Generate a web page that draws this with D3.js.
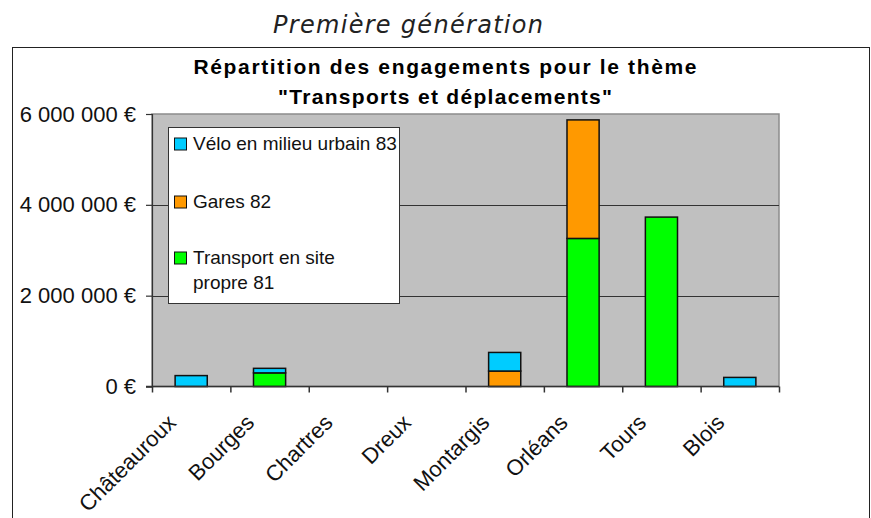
<!DOCTYPE html>
<html>
<head>
<meta charset="utf-8">
<script src="https://cdn.jsdelivr.net/npm/d3@7"></script>
<style>
  body { margin: 0; background: #fff; }
  text { font-family: "Liberation Sans", Arial, sans-serif; }
</style>
</head>
<body>
<div id="chart"></div>
<script>
// data
const categories = ["Châteauroux", "Bourges", "Chartres", "Dreux", "Montargis", "Orléans", "Tours", "Blois"];
const transport81 = [0, 300000, 0, 0, 0, 3260000, 3730000, 0];
const gares82 = [0, 0, 0, 0, 340000, 2610000, 0, 0];
const velo83 = [240000, 100000, 0, 0, 410000, 0, 0, 200000];
const seriesKeys = ["transport", "gares", "velo"];
const seriesColors = ["#00ff00", "#ff9900", "#00ccff"];
const legendLabels = [["Vélo en milieu urbain 83"], ["Gares 82"], ["Transport en site", "propre 81"]];
const legendColors = ["#00ccff", "#ff9900", "#00ff00"];
const yTicks = [0, 2000000, 4000000, 6000000];
const pageTitle = "Première génération";
const chartTitle = ["Répartition des engagements pour le thème", "\"Transports et déplacements\""];

const width = 871, height = 518;
const plot = {left: 152, right: 779, top: 114, bottom: 386.5};

const svg = d3.select("#chart").append("svg")
    .attr("width", width)
    .attr("height", height);

// page heading
svg.append("text")
    .attr("x", 408)
    .attr("y", 33)
    .attr("text-anchor", "middle")
    .style("font-family", "'DejaVu Sans', Verdana, sans-serif")
    .style("font-style", "italic")
    .style("font-size", "24px")
    .attr("fill", "#222")
    .attr("textLength", 270)
    .attr("lengthAdjust", "spacing")
    .text(pageTitle);

// chart frame
svg.append("rect")
    .attr("x", 12.5)
    .attr("y", 47.5)
    .attr("width", 857)
    .attr("height", 500)
    .attr("fill", "none")
    .attr("stroke", "#222");

// chart title
svg.append("g")
  .selectAll("text")
  .data(chartTitle)
  .join("text")
    .attr("x", 445)
    .attr("y", (d, i) => 74 + i * 30)
    .attr("text-anchor", "middle")
    .style("font-size", "21px")
    .style("font-weight", "bold")
    .attr("textLength", (d, i) => i === 0 ? 503 : 334)
    .attr("lengthAdjust", "spacing")
    .text(d => d);

const table = categories.map((c, i) => ({
  cat: c, transport: transport81[i], gares: gares82[i], velo: velo83[i]
}));

const x = d3.scaleBand()
    .domain(categories)
    .range([plot.left, plot.right])
    .paddingInner(0.59)
    .paddingOuter(0.295);

const xEdges = d3.scaleLinear()
    .domain([0, categories.length])
    .range([plot.left, plot.right]);

const y = d3.scaleLinear()
    .domain([0, 6000000])
    .range([plot.bottom, plot.top]);

// plot area
svg.append("rect")
    .attr("x", plot.left)
    .attr("y", plot.top)
    .attr("width", plot.right - plot.left)
    .attr("height", plot.bottom - plot.top)
    .attr("fill", "#c0c0c0")
    .attr("stroke", "#8c8c8c")
    .attr("stroke-width", 1.5);

// gridlines
svg.append("g")
  .selectAll("line")
  .data(yTicks.filter(v => v > 0 && v < 6000000))
  .join("line")
    .attr("x1", plot.left)
    .attr("x2", plot.right)
    .attr("y1", d => Math.round(y(d)) + 0.5)
    .attr("y2", d => Math.round(y(d)) + 0.5)
    .attr("stroke", "#333")
    .attr("stroke-width", 1.2);

// stacked bars
const stacked = d3.stack().keys(seriesKeys)(table);
svg.append("g")
  .selectAll("g")
  .data(stacked)
  .join("g")
    .attr("fill", (d, i) => seriesColors[i])
  .selectAll("rect")
  .data(d => d.filter(s => s[1] - s[0] > 0))
  .join("rect")
    .attr("x", d => x(d.data.cat))
    .attr("y", d => y(d[1]))
    .attr("width", x.bandwidth())
    .attr("height", d => y(d[0]) - y(d[1]))
    .attr("stroke", "#111")
    .attr("stroke-width", 1.5);

const fmt = v => d3.format(",")(v).replace(/,/g, " ") + " €";

// y axis
svg.append("g")
    .attr("transform", `translate(${plot.left},0)`)
    .call(d3.axisLeft(y).tickValues(yTicks).tickSize(6).tickPadding(10).tickFormat(fmt))
    .call(g => g.selectAll("line, path").attr("stroke", "#333").attr("stroke-width", 1.2))
    .call(g => g.selectAll("text")
        .attr("fill", "#111")
        .style("font-family", "'Liberation Sans', Arial, sans-serif")
        .style("font-size", "22px"));

// x axis (ticks between categories)
svg.append("g")
    .attr("transform", `translate(0,${plot.bottom})`)
    .call(d3.axisBottom(xEdges).tickValues(d3.range(categories.length + 1)).tickSize(6).tickFormat(""))
    .call(g => g.select(".domain").attr("d", `M${plot.left - 6},0H${plot.right}`))
    .call(g => g.selectAll("line, path").attr("stroke", "#333").attr("stroke-width", 1.5));

// rotated category labels
svg.append("g")
  .selectAll("text")
  .data(categories)
  .join("text")
    .attr("transform", d => `translate(${x(d) + x.bandwidth() / 2 - 14},424) rotate(-45)`)
    .attr("text-anchor", "end")
    .style("font-size", "22px")
    .attr("fill", "#111")
    .text(d => d);

// legend
const legend = svg.append("g");
legend.append("rect")
    .attr("x", 168.5)
    .attr("y", 127.5)
    .attr("width", 231)
    .attr("height", 176)
    .attr("fill", "#fff")
    .attr("stroke", "#333");

const entryY = [144, 202, 258];
const items = legend.selectAll("g.item")
  .data(legendLabels)
  .join("g")
    .attr("class", "item");

items.append("rect")
    .attr("x", 174.5)
    .attr("y", (d, i) => entryY[i] - 6)
    .attr("width", 12)
    .attr("height", 12)
    .attr("fill", (d, i) => legendColors[i])
    .attr("stroke", "#111");

items.selectAll("text")
  .data((d, i) => d.map((t, j) => ({t, i, j})))
  .join("text")
    .attr("x", 193)
    .attr("y", d => entryY[d.i] + 6 + d.j * 25)
    .style("font-size", "19px")
    .attr("fill", "#111")
    .text(d => d.t);
</script>
</body>
</html>
